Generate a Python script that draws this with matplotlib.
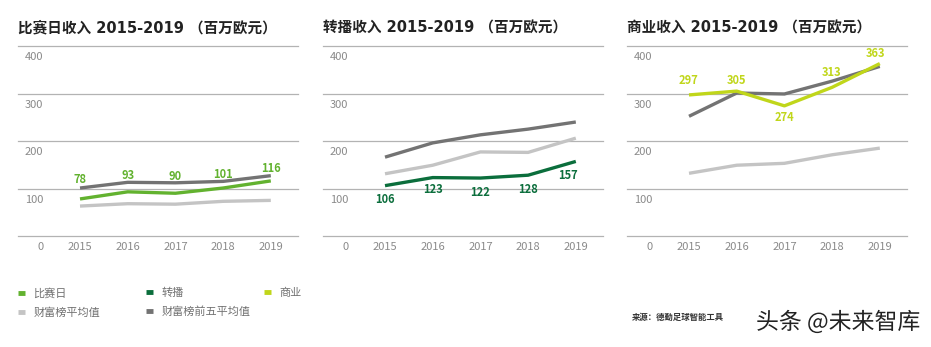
import matplotlib
matplotlib.use("Agg")
import matplotlib.pyplot as plt
import matplotlib.patheffects as pe
from matplotlib.lines import Line2D

plt.rcParams['font.family'] = ['Noto Sans CJK SC', 'DejaVu Sans']

years = [2015, 2016, 2017, 2018, 2019]

# matchday
matchday = [78, 93, 90, 101, 116]
matchday_avg = [63, 68, 67, 73, 75]
matchday_top5 = [101, 113, 112, 115, 127]

# broadcast
broadcast = [106, 123, 122, 128, 157]
broadcast_avg = [131, 149, 177, 176, 206]
broadcast_top5 = [166, 196, 213, 225, 240]

# commercial
commercial = [297, 305, 274, 313, 363]
commercial_avg = [132, 149, 153, 171, 185]
commercial_top5 = [252, 301, 299, 326, 357]

titles = ["比赛日收入 2015-2019 （百万欧元）",
          "转播收入 2015-2019 （百万欧元）",
          "商业收入 2015-2019 （百万欧元）"]
legend_labels = ["比赛日", "转播", "商业", "财富榜平均值", "财富榜前五平均值"]
y_ticks = [0, 100, 200, 300, 400]

C_MATCH = "#62b22f"
C_BROAD = "#0b6e3c"
C_COMM = "#c0d61a"
C_AVG = "#c4c4c4"
C_TOP5 = "#737373"

panels = [
    (matchday, matchday_avg, matchday_top5, C_MATCH,
     [(0, 19), (0, 16), (0, 17), (0, 14), (0, 12)]),
    (broadcast, broadcast_avg, broadcast_top5, C_BROAD,
     [(0, -14), (0, -12), (0, -14), (0, -14), (-8, -14)]),
    (commercial, commercial_avg, commercial_top5, C_COMM,
     [(-1, 14), (0, 11), (0, -12), (-1, 15), (-4, 10)]),
]

fig = plt.figure(figsize=(9.31, 3.47), dpi=100)
lefts = [18, 323, 627]

for i, (main, avg, top5, color, offs) in enumerate(panels):
    ax = fig.add_axes([lefts[i] / 931, 1 - 236 / 347, 280 / 931, 190 / 347])
    ax.set_xlim(2013.7, 2019.57)
    ax.set_ylim(0, 400)
    for s in ax.spines.values():
        s.set_visible(False)
    for v in y_ticks:
        ax.axhline(v, color="#b3b3b3", lw=0.9, clip_on=False, zorder=0)
    ax.set_yticks([])
    ax.set_xticks(years)
    ax.tick_params(axis="x", length=0, pad=4, labelsize=8, labelcolor="#8a8a8a")

    for v in y_ticks:
        ax.annotate(str(v), xy=(0.09, v), xycoords=ax.get_yaxis_transform(),
                    xytext=(0, -11), textcoords="offset pixels",
                    ha="right", va="center", fontsize=8, color="#8a8a8a")

    ax.plot(years, avg, color=C_AVG, lw=2.4, clip_on=False, solid_capstyle="butt")
    ax.plot(years, top5, color=C_TOP5, lw=2.4, clip_on=False, solid_capstyle="butt")
    ax.plot(years, main, color=color, lw=2.4, clip_on=False, solid_capstyle="butt")

    for x, v, (dx, dy) in zip(years, main, offs):
        ax.annotate(str(v), xy=(x, v), xytext=(dx, dy), textcoords="offset pixels",
                    ha="center", va="center", fontsize=8, fontweight="bold",
                    color=color)

    ax.set_title(titles[i], loc="left", pad=10, fontsize=10.5, fontweight="bold",
                 family=["DejaVu Sans", "Noto Sans CJK SC"], color="#222222")

# legend
def handle(c):
    return Line2D([], [], color=c, lw=3.5, solid_capstyle="butt")

cols = [
    (18, [handle(C_MATCH), handle(C_AVG)], [legend_labels[0], legend_labels[3]]),
    (146, [handle(C_BROAD), handle(C_TOP5)], [legend_labels[1], legend_labels[4]]),
    (264, [handle(C_COMM)], [legend_labels[2]]),
]
for x, hs, ls in cols:
    fig.legend(hs, ls, loc="upper left", bbox_to_anchor=(x / 931, 1 - 288 / 347),
               frameon=False, fontsize=8, handlelength=0.6, handletextpad=0.8,
               labelspacing=0.75, borderpad=0, borderaxespad=0,
               labelcolor="#707070")

fig.text(632 / 931, 1 - 317 / 347, "来源：德勤足球智能工具", fontsize=6,
         fontweight="bold", color="#333333", va="center")
fig.text(838 / 931, 1 - 322 / 347, "头条 @未来智库", fontsize=16.5, color="#222222",
         ha="center", va="center",
         path_effects=[pe.withStroke(linewidth=3, foreground="white")])

fig.savefig("out.png", dpi=100)
